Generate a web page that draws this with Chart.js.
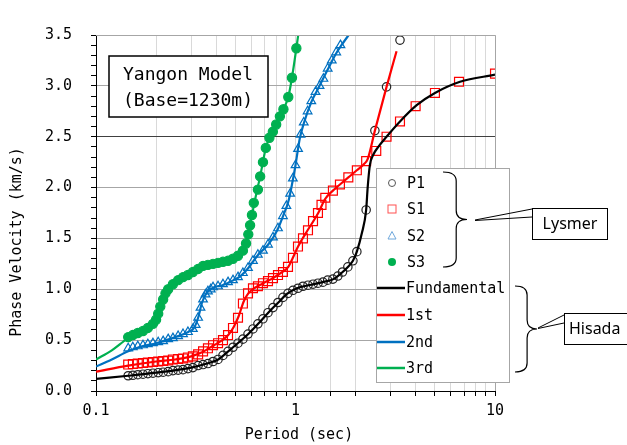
<!DOCTYPE html>
<html lang="en">
<head>
<meta charset="UTF-8">
<title>Yangon Model dispersion</title>
<script src="https://cdn.jsdelivr.net/npm/chart.js"></script>
<style>
  body { margin: 0; background: #fff; }
  canvas { display: block; }
</style>
</head>
<body>
<canvas id="grafico" width="627" height="445" style="width:627px;height:445px"></canvas>
<script>
// Lysmer (markers)
const p1Period = [0.145,0.153,0.162,0.172,0.182,0.193,0.205,0.217,0.23,0.243,0.258,0.273,0.289,0.306,0.325,0.344,0.364,0.386,0.409,0.433,0.459,0.486,0.515,0.545,0.578,0.612,0.648,0.687,0.728,0.771,0.817,0.865,0.917,0.971,1.029,1.09,1.155,1.224,1.296,1.373,1.45,1.54,1.63,1.72,1.83,1.94,2.03,2.26,2.5,2.86,3.34];
const p1Vel = [0.15,0.155,0.16,0.165,0.17,0.175,0.18,0.185,0.19,0.20,0.205,0.21,0.22,0.23,0.25,0.26,0.27,0.29,0.31,0.35,0.39,0.43,0.47,0.51,0.56,0.61,0.66,0.71,0.77,0.82,0.87,0.92,0.96,0.99,1.01,1.03,1.04,1.05,1.06,1.07,1.09,1.10,1.13,1.17,1.22,1.28,1.37,1.78,2.56,2.99,3.45];

const s1Period = [0.145,0.153,0.162,0.172,0.182,0.193,0.205,0.217,0.23,0.243,0.258,0.273,0.289,0.306,0.325,0.344,0.364,0.386,0.409,0.433,0.459,0.486,0.515,0.545,0.578,0.612,0.648,0.687,0.728,0.771,0.817,0.865,0.917,0.971,1.029,1.09,1.155,1.224,1.296,1.35,1.41,1.54,1.67,1.84,2.03,2.26,2.54,2.86,3.34,4.0,5.0,6.6,10];
const s1Vel = [0.26,0.265,0.27,0.275,0.28,0.285,0.29,0.295,0.30,0.31,0.315,0.32,0.33,0.34,0.36,0.39,0.42,0.45,0.47,0.50,0.55,0.62,0.72,0.86,0.96,1.01,1.03,1.06,1.08,1.11,1.14,1.17,1.22,1.31,1.42,1.50,1.58,1.67,1.75,1.83,1.90,1.97,2.03,2.10,2.17,2.26,2.36,2.50,2.65,2.80,2.93,3.04,3.12];

const s2Period = [0.145,0.153,0.162,0.172,0.182,0.193,0.205,0.217,0.23,0.243,0.258,0.273,0.289,0.306,0.316,0.325,0.334,0.344,0.354,0.364,0.376,0.386,0.409,0.433,0.459,0.486,0.515,0.545,0.578,0.612,0.648,0.687,0.728,0.771,0.817,0.865,0.90,0.94,0.97,1.0,1.03,1.06,1.10,1.15,1.20,1.26,1.32,1.38,1.45,1.52,1.60,1.68];
const s2Vel = [0.42,0.43,0.44,0.45,0.46,0.47,0.48,0.49,0.51,0.52,0.54,0.56,0.58,0.61,0.65,0.72,0.82,0.90,0.95,0.98,1.00,1.02,1.03,1.05,1.07,1.09,1.12,1.16,1.21,1.28,1.34,1.38,1.44,1.51,1.60,1.72,1.82,1.94,2.09,2.22,2.38,2.52,2.64,2.75,2.85,2.94,3.00,3.07,3.17,3.25,3.33,3.40];

const s3Period = [0.145,0.153,0.162,0.172,0.182,0.193,0.2,0.205,0.21,0.217,0.223,0.23,0.243,0.258,0.273,0.289,0.306,0.325,0.344,0.364,0.386,0.409,0.433,0.459,0.486,0.515,0.545,0.565,0.58,0.592,0.605,0.618,0.648,0.665,0.687,0.71,0.74,0.77,0.80,0.835,0.87,0.92,0.96,1.01];
const s3Vel = [0.53,0.55,0.57,0.59,0.62,0.66,0.70,0.76,0.83,0.90,0.96,1.00,1.05,1.09,1.12,1.14,1.17,1.20,1.23,1.24,1.25,1.26,1.27,1.28,1.30,1.33,1.38,1.45,1.54,1.63,1.73,1.85,1.98,2.11,2.25,2.39,2.49,2.55,2.62,2.70,2.77,2.89,3.08,3.37];

// Hisada (lines)
const fundPeriod = [0.1,0.145,0.2,0.3,0.36,0.41,0.46,0.5,0.58,0.65,0.73,0.82,0.9,0.97,1.05,1.2,1.4,1.55,1.7,1.83,1.94,2.03,2.15,2.26,2.3,2.36,2.45,2.6,2.86,3.34,4.05,5.0,6.68,10];
const fundVel = [0.12,0.15,0.18,0.23,0.27,0.31,0.39,0.45,0.56,0.66,0.77,0.87,0.95,0.99,1.02,1.045,1.075,1.10,1.16,1.22,1.28,1.37,1.55,1.78,2.0,2.22,2.32,2.40,2.50,2.65,2.81,2.93,3.04,3.11];

const firstPeriod = [0.1,0.145,0.2,0.25,0.3,0.34,0.39,0.43,0.46,0.49,0.52,0.55,0.58,0.62,0.69,0.77,0.86,0.92,0.97,1.03,1.15,1.3,1.41,1.54,1.67,1.84,2.03,2.2,2.3,2.5,2.86,3.21];
const firstVel = [0.19,0.25,0.29,0.31,0.34,0.38,0.45,0.50,0.55,0.63,0.74,0.88,0.96,1.01,1.06,1.11,1.17,1.22,1.31,1.42,1.58,1.75,1.89,1.97,2.03,2.10,2.17,2.23,2.28,2.56,2.99,3.34];

const secondPeriod = [0.1,0.12,0.145,0.17,0.2,0.25,0.29,0.31,0.325,0.34,0.36,0.39,0.43,0.49,0.53,0.58,0.65,0.73,0.81,0.87,0.92,0.96,1.0,1.05,1.1,1.2,1.32,1.45,1.6,1.7,1.88];
const secondVel = [0.24,0.31,0.39,0.44,0.47,0.53,0.58,0.62,0.72,0.87,0.97,1.02,1.04,1.09,1.13,1.21,1.34,1.44,1.58,1.73,1.86,2.03,2.22,2.48,2.63,2.84,3.00,3.16,3.32,3.40,3.52];

const thirdPeriod = [0.1,0.12,0.145,0.18,0.195,0.205,0.217,0.23,0.26,0.3,0.35,0.44,0.5,0.545,0.58,0.605,0.63,0.665,0.71,0.74,0.8,0.87,0.92,0.96,1.01,1.035];
const thirdVel = [0.31,0.40,0.52,0.61,0.67,0.76,0.90,1.00,1.09,1.15,1.22,1.27,1.31,1.38,1.54,1.73,1.90,2.11,2.39,2.49,2.62,2.77,2.89,3.08,3.37,3.52];

const xLabelTicks = [0.1, 1, 10];

const FONT = 'DejaVu Sans Mono';
const BLACK = '#000000', RED = '#ff0000', BLUE = '#0070c0', GREEN = '#00b050';

function pares(xs, ys) {
    return xs.map((x, i) => ({ x: x, y: ys[i] }));
}

function marcadores(label, xs, ys, style, cor, fundo, raio) {
    return {
        label: label, data: pares(xs, ys), showLine: false, order: 1,
        pointStyle: style, pointRadius: raio, pointBorderColor: cor,
        pointBackgroundColor: fundo, pointBorderWidth: 1.2
    };
}

function linha(label, xs, ys, cor) {
    return {
        label: label, data: pares(xs, ys), order: 0,
        borderColor: cor, borderWidth: 2.2, pointRadius: 0,
        cubicInterpolationMode: 'monotone', fill: false
    };
}

// chaves { } e caixas de texto
function chave(ctx, x, yTop, yBot, w) {
    const mid = (yTop + yBot) / 2, xm = x + w * 0.55, r = 9;
    ctx.beginPath();
    ctx.moveTo(x, yTop);
    ctx.quadraticCurveTo(xm, yTop, xm, yTop + r);
    ctx.lineTo(xm, mid - r);
    ctx.quadraticCurveTo(xm, mid, x + w, mid);
    ctx.quadraticCurveTo(xm, mid, xm, mid + r);
    ctx.lineTo(xm, yBot - r);
    ctx.quadraticCurveTo(xm, yBot, x, yBot);
    ctx.stroke();
}

const extras = {
    id: 'extras',
    afterDraw(chart) {
        const ctx = chart.ctx, a = chart.chartArea;
        ctx.save();

        // borda da área
        ctx.strokeStyle = '#a6a6a6';
        ctx.lineWidth = 1;
        ctx.beginPath();
        ctx.moveTo(a.left, a.top + 0.5);
        ctx.lineTo(a.right + 0.5, a.top + 0.5);
        ctx.lineTo(a.right + 0.5, a.bottom);
        ctx.stroke();

        // título
        ctx.fillStyle = '#fff';
        ctx.fillRect(109, 56, 159, 61);
        ctx.strokeStyle = '#000';
        ctx.lineWidth = 1.5;
        ctx.strokeRect(109, 56, 159, 61);
        ctx.fillStyle = '#000';
        ctx.font = '18px "' + FONT + '"';
        ctx.textAlign = 'center';
        ctx.textBaseline = 'middle';
        ctx.fillText('Yangon Model', 188, 75);
        ctx.fillText('(Base=1230m)', 188, 101);

        // legenda
        ctx.fillStyle = '#fff';
        ctx.fillRect(376, 168, 133, 214);
        ctx.strokeStyle = '#a6a6a6';
        ctx.lineWidth = 1;
        ctx.strokeRect(376.5, 168.5, 133, 214);
        ctx.font = '15px "' + FONT + '"';
        ctx.textAlign = 'left';
        const ys = [183, 209, 236, 262, 288, 315, 342, 368];
        const mx = 392;
        ctx.lineWidth = 1;
        ctx.strokeStyle = '#555';
        ctx.beginPath(); ctx.arc(mx, ys[0], 3.5, 0, Math.PI * 2); ctx.stroke();
        ctx.strokeStyle = '#ff5050';
        ctx.strokeRect(mx - 4, ys[1] - 4, 8, 8);
        ctx.strokeStyle = '#6fa8dc';
        ctx.beginPath(); ctx.moveTo(mx, ys[2] - 4.5); ctx.lineTo(mx + 4, ys[2] + 3); ctx.lineTo(mx - 4, ys[2] + 3); ctx.closePath(); ctx.stroke();
        ctx.fillStyle = GREEN;
        ctx.beginPath(); ctx.arc(mx, ys[3], 4, 0, Math.PI * 2); ctx.fill();
        ctx.fillStyle = '#000';
        ['P1', 'S1', 'S2', 'S3'].forEach((t, i) => ctx.fillText(t, 407, ys[i] + 1));
        const linhas = [['Fundamental', BLACK], ['1st', RED], ['2nd', BLUE], ['3rd', GREEN]];
        linhas.forEach((l, i) => {
            const y = ys[4 + i];
            ctx.strokeStyle = l[1];
            ctx.lineWidth = 2.5;
            ctx.beginPath(); ctx.moveTo(377, y); ctx.lineTo(405, y); ctx.stroke();
            ctx.fillStyle = '#000';
            ctx.fillText(l[0], 406, y + 1);
        });

        // chaves e rótulos
        ctx.strokeStyle = '#000';
        ctx.lineWidth = 1.2;
        chave(ctx, 443, 172, 267, 24);
        chave(ctx, 515, 286, 372, 22);
        ctx.lineWidth = 1;
        ctx.beginPath();
        ctx.moveTo(475, 220); ctx.lineTo(532, 209);
        ctx.moveTo(475, 220.5); ctx.lineTo(532, 217);
        ctx.moveTo(538, 328); ctx.lineTo(564, 315);
        ctx.moveTo(538, 328.5); ctx.lineTo(564, 323);
        ctx.stroke();
        ctx.fillStyle = '#fff';
        ctx.fillRect(532, 208, 76, 31);
        ctx.fillRect(564, 313, 70, 32);
        ctx.strokeRect(532.5, 208.5, 75, 31);
        ctx.strokeRect(564.5, 313.5, 70, 31);
        ctx.fillStyle = '#000';
        ctx.font = '16px "Noto Sans"';
        ctx.textAlign = 'center';
        ctx.fillText('Lysmer', 570, 224);
        ctx.textAlign = 'left';
        ctx.fillText('Hisada', 569, 329);

        // títulos dos eixos
        ctx.font = '15px "' + FONT + '"';
        ctx.textAlign = 'center';
        ctx.fillText('Period (sec)', 299, 435);
        ctx.translate(17, 242);
        ctx.rotate(-Math.PI / 2);
        ctx.fillText('Phase Velocity (km/s)', 0, 0);
        ctx.restore();
    }
};

function criarGrafico() {
    const ctx = document.getElementById('grafico').getContext('2d');
    new Chart(ctx, {
        type: 'line',
        data: {
            datasets: [
                linha('Fundamental', fundPeriod, fundVel, BLACK),
                linha('1st', firstPeriod, firstVel, RED),
                linha('2nd', secondPeriod, secondVel, BLUE),
                linha('3rd', thirdPeriod, thirdVel, GREEN),
                marcadores('S3', s3Period, s3Vel, 'circle', GREEN, GREEN, 4.6),
                marcadores('P1', p1Period, p1Vel, 'circle', '#222', 'rgba(0,0,0,0)', 4.2),
                marcadores('S1', s1Period, s1Vel, 'rect', RED, 'rgba(0,0,0,0)', 6.3),
                marcadores('S2', s2Period, s2Vel, 'triangle', BLUE, 'rgba(0,0,0,0)', 5)
            ]
        },
        options: {
            responsive: false,
            animation: false,
            events: [],
            layout: { padding: { top: 35, right: 132, left: 0, bottom: 0 } },
            plugins: { legend: { display: false }, tooltip: { enabled: false } },
            scales: {
                x: {
                    type: 'logarithmic', min: 0.1, max: 10,
                    afterFit: (s) => { s.height = 54; },
                    border: { color: '#000', width: 1 },
                    grid: { color: '#d9d9d9', tickColor: '#000', tickLength: 5 },
                    ticks: {
                        autoSkip: false, maxRotation: 0, padding: 6, color: '#000',
                        font: { family: FONT, size: 15 },
                        callback: (v) => {
                            const hit = xLabelTicks.find(t => Math.abs(t - v) < 1e-9);
                            return hit !== undefined ? String(hit) : '';
                        }
                    }
                },
                y: {
                    min: 0, max: 3.5,
                    afterFit: (s) => { s.width = 96; },
                    border: { color: '#000', width: 1 },
                    grid: {
                        tickColor: '#000', tickLength: 5,
                        color: (c) => {
                            const t = Math.round(c.tick.value * 10);
                            if (t % 5) return 'rgba(0,0,0,0)';
                            return t === 25 ? '#404040' : '#a6a6a6';
                        }
                    },
                    ticks: {
                        stepSize: 0.1, autoSkip: false, padding: 19, color: '#000',
                        font: { family: FONT, size: 15 },
                        callback: (v) => {
                            const t = Math.round(v * 10);
                            return t % 5 === 0 ? (t / 10).toFixed(1) : '';
                        }
                    }
                }
            }
        },
        plugins: [extras]
    });
}

criarGrafico();
</script>
</body>
</html>
